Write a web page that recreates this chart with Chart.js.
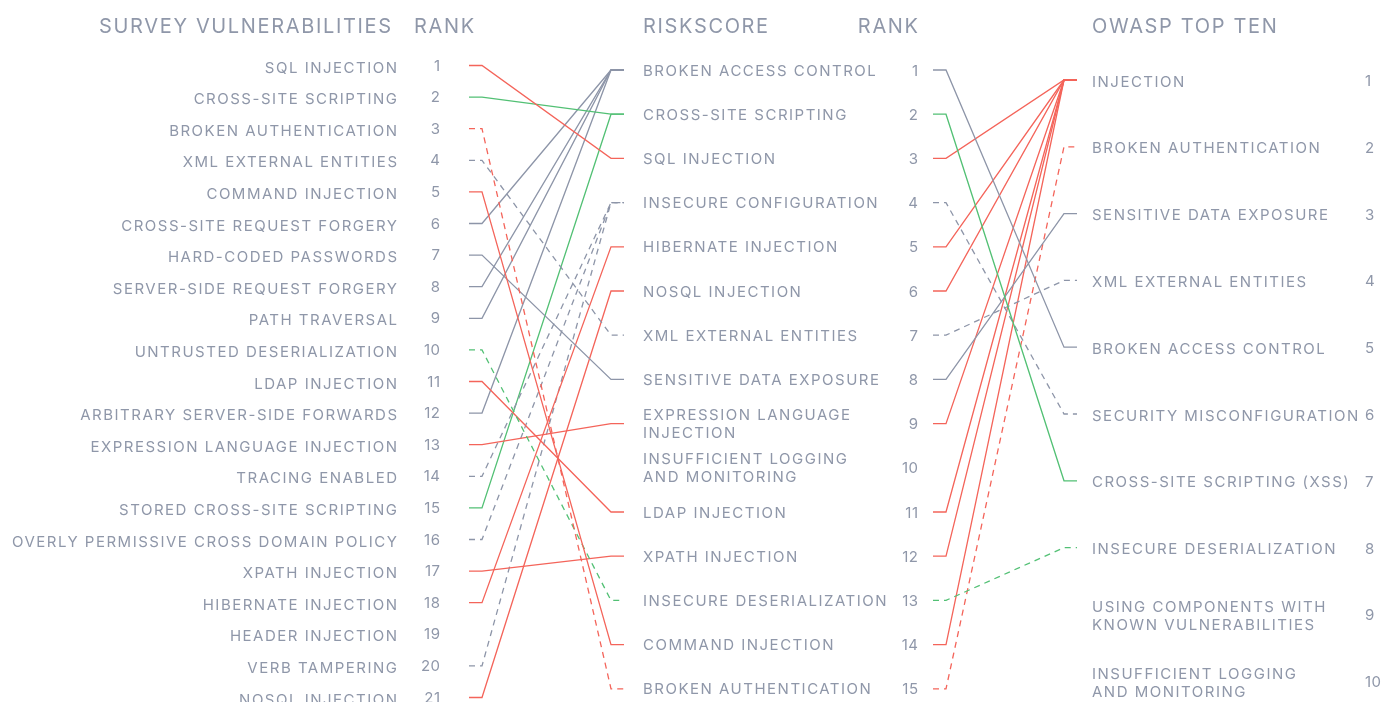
<!DOCTYPE html>
<html>
<head>
<meta charset="utf-8">
<script src="https://cdn.jsdelivr.net/npm/chart.js@4.4.1/dist/chart.umd.min.js"></script>
<style>
  html, body { margin: 0; padding: 0; background: #fff; }
  #wrap { width: 1386px; height: 702px; }
</style>
</head>
<body>
<div id="wrap"><canvas id="myChart" width="1386" height="702"></canvas></div>
<script>
// columns of the slope graph
var survey = ['SQL INJECTION', 'CROSS-SITE SCRIPTING', 'BROKEN AUTHENTICATION', 'XML EXTERNAL ENTITIES',
    'COMMAND INJECTION', 'CROSS-SITE REQUEST FORGERY', 'HARD-CODED PASSWORDS', 'SERVER-SIDE REQUEST FORGERY',
    'PATH TRAVERSAL', 'UNTRUSTED DESERIALIZATION', 'LDAP INJECTION', 'ARBITRARY SERVER-SIDE FORWARDS',
    'EXPRESSION LANGUAGE INJECTION', 'TRACING ENABLED', 'STORED CROSS-SITE SCRIPTING',
    'OVERLY PERMISSIVE CROSS DOMAIN POLICY', 'XPATH INJECTION', 'HIBERNATE INJECTION', 'HEADER INJECTION',
    'VERB TAMPERING', 'NOSQL INJECTION'];
var riskscore = ['BROKEN ACCESS CONTROL', 'CROSS-SITE SCRIPTING', 'SQL INJECTION', 'INSECURE CONFIGURATION',
    'HIBERNATE INJECTION', 'NOSQL INJECTION', 'XML EXTERNAL ENTITIES', 'SENSITIVE DATA EXPOSURE',
    ['EXPRESSION LANGUAGE', 'INJECTION'], ['INSUFFICIENT LOGGING', 'AND MONITORING'], 'LDAP INJECTION',
    'XPATH INJECTION', 'INSECURE DESERIALIZATION', 'COMMAND INJECTION', 'BROKEN AUTHENTICATION'];
var owasp = ['INJECTION', 'BROKEN AUTHENTICATION', 'SENSITIVE DATA EXPOSURE', 'XML EXTERNAL ENTITIES',
    'BROKEN ACCESS CONTROL', 'SECURITY MISCONFIGURATION', 'CROSS-SITE SCRIPTING (XSS)',
    'INSECURE DESERIALIZATION', ['USING COMPONENTS WITH', 'KNOWN VULNERABILITIES'],
    ['INSUFFICIENT LOGGING', 'AND MONITORING']];

// survey rank -> riskscore rank, riskscore rank -> owasp rank (null = no link)
var surveyToRisk = [3, 2, 15, 7, 14, 1, 8, 1, 1, 13, 11, 1, 9, 4, 2, 4, 12, 5, null, 4, 6];
var riskToOwasp = [5, 7, 1, 6, 1, 1, 4, 3, 1, null, 1, 1, 8, 1, 2];
// kind of each riskscore item and whether the match is exact or loose
var riskGroup = ['other', 'xss', 'injection', 'other', 'injection', 'injection', 'other', 'other',
    'injection', 'other', 'injection', 'injection', 'xss', 'injection', 'injection'];
var riskMatch = ['exact', 'exact', 'exact', 'loose', 'exact', 'exact', 'loose', 'exact',
    'exact', null, 'exact', 'exact', 'loose', 'exact', 'loose'];

var colors = { injection: '#f4645a', xss: '#52c074', other: '#8d95a8' };
var textColor = '#8f97a9';
var font = 'Inter, "Noto Sans", sans-serif';

// column x positions (pixels, x scale runs 0..1386)
var colX = { lStart: 469, lBend: 482, mIn: 611, mEnd: 624, mOut: 933, mBend: 946, rIn: 1064, rEnd: 1077 };

// first row pixel and row step -> min/max of a reversed rank scale
function rankScale(firstPx, step) {
    var min = 1 - firstPx / step;
    return { type: 'linear', display: false, reverse: true, min: min, max: min + 702 / step };
}

function link(fromCol, fromRank, toCol, toRank, x0, x1, x2, x3, idx) {
    return {
        data: [
            { x: x0, y: fromRank, col: fromCol },
            { x: x1, y: fromRank, col: fromCol },
            { x: x2, y: toRank, col: toCol },
            { x: x3, y: toRank, col: toCol }
        ],
        borderColor: colors[riskGroup[idx]],
        borderWidth: 1.3,
        borderDash: riskMatch[idx] === 'loose' ? [6, 5] : [],
        pointRadius: 0,
        tension: 0,
        fill: false,
        yAxisID: 'yL'
    };
}

var datasets = [];
surveyToRisk.forEach(function (m, i) {
    if (m == null) return;
    datasets.push(link('yL', i + 1, 'yM', m, colX.lStart, colX.lBend, colX.mIn, colX.mEnd, m - 1));
});
riskToOwasp.forEach(function (o, i) {
    if (o == null) return;
    datasets.push(link('yM', i + 1, 'yR', o, colX.mOut, colX.mBend, colX.rIn, colX.rEnd, i));
});

// put every point on the y scale of its own column
var columnPlugin = {
    id: 'columns',
    afterDatasetUpdate: function (chart, args) {
        var ds = chart.data.datasets[args.index];
        args.meta.data.forEach(function (pt, i) {
            var d = ds.data[i];
            pt.y = chart.scales[d.col].getPixelForValue(d.y);
        });
    }
};

function drawText(ctx, txt, x, y, align, spacing) {
    ctx.letterSpacing = spacing + 'px';
    ctx.textAlign = align;
    ctx.fillText(txt, align === 'right' ? x + spacing : x, y);
}

function drawLabel(ctx, label, x, y, align, spacing, lh) {
    if (Array.isArray(label)) {
        drawText(ctx, label[0], x, y - lh / 2, align, spacing);
        drawText(ctx, label[1], x, y + lh / 2, align, spacing);
    } else {
        drawText(ctx, label, x, y, align, spacing);
    }
}

var labelPlugin = {
    id: 'labels',
    afterDraw: function (chart) {
        var ctx = chart.ctx;
        var yL = chart.scales.yL, yM = chart.scales.yM, yR = chart.scales.yR;
        ctx.save();
        ctx.fillStyle = textColor;
        ctx.textBaseline = 'middle';

        ctx.font = '20px ' + font;
        drawText(ctx, 'SURVEY VULNERABILITIES', 391, 27, 'right', 1.65);
        drawText(ctx, 'RANK', 414, 27, 'left', 1.65);
        drawText(ctx, 'RISKSCORE', 643, 27, 'left', 1.65);
        drawText(ctx, 'RANK', 918, 27, 'right', 1.65);
        drawText(ctx, 'OWASP TOP TEN', 1092, 27, 'left', 1.65);

        ctx.font = '15px ' + font;
        survey.forEach(function (s, i) {
            var y = yL.getPixelForValue(i + 1);
            drawLabel(ctx, s, 397, y + 2.5, 'right', 1.5, 18);
            drawText(ctx, String(i + 1), 440, y + 0.5, 'right', 0.5);
        });
        riskscore.forEach(function (s, i) {
            var y = yM.getPixelForValue(i + 1);
            drawLabel(ctx, s, 643, y + 1, 'left', 1.5, 18);
            drawText(ctx, String(i + 1), 918, y + 1, 'right', 0.5);
        });
        owasp.forEach(function (s, i) {
            var y = yR.getPixelForValue(i + 1);
            drawLabel(ctx, s, 1092, y + 2, 'left', 1.5, 18);
            drawText(ctx, String(i + 1), 1365, y + 1.5, 'left', 0.5);
        });
        ctx.restore();
    }
};

var ctx = document.getElementById('myChart').getContext('2d');
var chart = new Chart(ctx, {
    type: 'line',
    data: { datasets: datasets },
    options: {
        responsive: false,
        animation: false,
        parsing: true,
        layout: { padding: 0 },
        plugins: { legend: { display: false }, tooltip: { enabled: false } },
        scales: {
            x: { type: 'linear', display: false, min: 0, max: 1386 },
            yL: rankScale(65.5, 31.6),
            yM: rankScale(70, 44.2),
            yR: rankScale(80, 66.8)
        }
    },
    plugins: [columnPlugin, labelPlugin]
});
</script>
</body>
</html>
